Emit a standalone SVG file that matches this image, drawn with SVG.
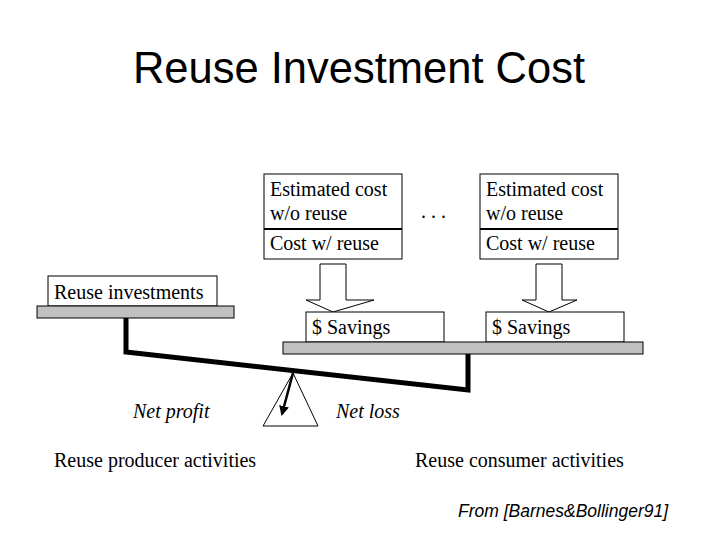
<svg xmlns="http://www.w3.org/2000/svg" width="720" height="540" viewBox="0 0 720 540">
<style>
.t{font-family:"Liberation Serif","Times New Roman",serif;font-size:20px;fill:#000}
.i{font-style:italic}
.box{fill:#fff;stroke:#000;stroke-width:1}
.plank{fill:#c0c0c0;stroke:#000;stroke-width:1}
.beam{fill:none;stroke:#000;stroke-width:5;stroke-linejoin:miter}
</style>
<defs>
<marker id="ah" viewBox="0 0 10 10" refX="8" refY="5" markerWidth="4" markerHeight="4" orient="auto">
<path d="M0,0 L10,5 L0,10 z" fill="#000"/>
</marker>
</defs>
<rect width="720" height="540" fill="#fff"/>
<text x="359" y="83" text-anchor="middle" font-family="Liberation Sans, Arial, sans-serif" font-size="43.5">Reuse Investment Cost</text>

<g id="cost-box-1">
<rect class="box" x="264" y="174" width="138" height="85"/>
<line x1="264" y1="229" x2="402" y2="229" stroke="#000" stroke-width="2"/>
<text class="t" x="270" y="196">Estimated cost</text>
<text class="t" x="270" y="220">w/o reuse</text>
<text class="t" x="270" y="250">Cost w/ reuse</text>
</g>
<g id="dots"><text class="t" x="421" y="218">. . .</text></g>
<g id="cost-box-2">
<rect class="box" x="480" y="174" width="138" height="85"/>
<line x1="480" y1="229" x2="618" y2="229" stroke="#000" stroke-width="2"/>
<text class="t" x="486" y="196">Estimated cost</text>
<text class="t" x="486" y="220">w/o reuse</text>
<text class="t" x="486" y="250">Cost w/ reuse</text>
</g>

<g id="connectors">
<path class="box" d="M320,264 H346 V300 H374 L333,312 L306,300 H320 Z"/>
<path class="box" d="M536,264 H562 V300 H577 L549,312 L522,300 H536 Z"/>
</g>

<g id="reuse-investments">
<rect class="box" x="48" y="276" width="169" height="30"/>
<text class="t" x="54" y="299">Reuse investments</text>
<rect class="plank" x="37" y="306" width="197" height="12"/>
</g>

<g id="savings-1">
<rect class="box" x="306" y="312" width="138" height="30"/>
<text class="t" x="312" y="334">$ Savings</text>
</g>
<g id="savings-2">
<rect class="box" x="486" y="312" width="138" height="30"/>
<text class="t" x="492" y="334">$ Savings</text>
</g>
<g id="right-plank">
<rect class="plank" x="283" y="342" width="360" height="12"/>
</g>

<g id="beam">
<path class="beam" d="M126,318 V352 L468,390 V354"/>
</g>

<g id="fulcrum">
<path d="M293,373 L318,426 H263 Z" fill="#fff" stroke="#000" stroke-width="1"/>
<line x1="293" y1="373" x2="282" y2="414" stroke="#000" stroke-width="2.5" marker-end="url(#ah)"/>
</g>

<text class="t i" x="133" y="418">Net profit</text>
<text class="t i" x="336" y="418">Net loss</text>
<text class="t" x="54" y="467">Reuse producer activities</text>
<text class="t" x="415" y="467">Reuse consumer activities</text>
<text x="458" y="517" font-family="Liberation Sans, Arial, sans-serif" font-size="17.5" font-style="italic">From [Barnes&amp;Bollinger91]</text>
</svg>
